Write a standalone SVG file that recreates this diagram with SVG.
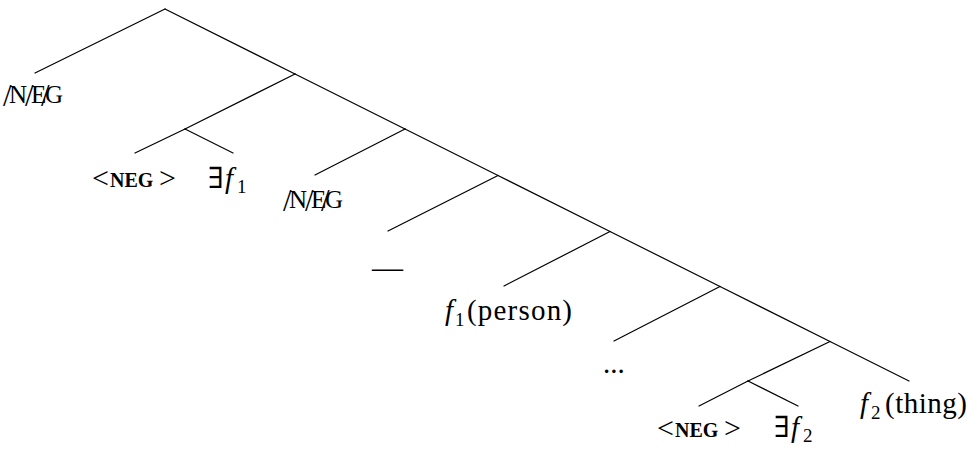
<svg xmlns="http://www.w3.org/2000/svg" width="974" height="450" viewBox="0 0 974 450">
<style>
  .edge { stroke: #000; stroke-width: 1.2; fill: none; stroke-linecap: round; }
  .t { font-family: "Liberation Serif", "DejaVu Serif", serif; fill: #000; }
  .main { font-size: 29px; }
  .it { font-style: italic; }
  .sub { font-size: 19px; }
  .ang { font-size: 30px; }
  .sc { font-size: 20px; font-weight: bold; }
  .del { font-size: 25px; }
</style>
<rect width="974" height="450" fill="#fff"/>
<g id="connectors">
  <line class="edge" x1="165" y1="9" x2="35" y2="73"/>
  <line class="edge" x1="165" y1="9" x2="295" y2="74"/>
  <line class="edge" x1="295" y1="74" x2="405" y2="129"/>
  <line class="edge" x1="405" y1="129" x2="498" y2="175.5"/>
  <line class="edge" x1="498" y1="175.5" x2="610" y2="231.5"/>
  <line class="edge" x1="610" y1="231.5" x2="720" y2="286.5"/>
  <line class="edge" x1="720" y1="286.5" x2="830" y2="341.5"/>
  <line class="edge" x1="830" y1="341.5" x2="909" y2="381"/>
  <line class="edge" x1="295" y1="74" x2="185" y2="129"/>
  <line class="edge" x1="185" y1="129" x2="135" y2="153"/>
  <line class="edge" x1="185" y1="129" x2="233" y2="153"/>
  <line class="edge" x1="405" y1="129" x2="315" y2="175"/>
  <line class="edge" x1="498" y1="175.5" x2="388" y2="231"/>
  <line class="edge" x1="610" y1="231.5" x2="504" y2="286"/>
  <line class="edge" x1="720" y1="286.5" x2="614" y2="341"/>
  <line class="edge" x1="830" y1="341.5" x2="748" y2="381"/>
  <line class="edge" x1="748" y1="381" x2="699" y2="406"/>
  <line class="edge" x1="748" y1="381" x2="798" y2="406"/>
</g>
<g id="node-neg-deleted-1">
  <text class="t del" y="103"><tspan font-size="31" x="3" y="106">/</tspan><tspan x="9" y="103">N</tspan><tspan font-size="31" x="25" y="106">/</tspan><tspan x="31" y="103">E</tspan><tspan font-size="31" x="41" y="106">/</tspan><tspan x="45" y="103">G</tspan></text>
</g>
<g id="node-neg-1">
  <text class="t ang" x="92" y="188">&lt;<tspan class="sc" x="110" y="187">NEG</tspan><tspan x="159" y="188">&gt;</tspan></text>
</g>
<g id="node-exists-f1">
  <text class="t main" x="208" y="188">∃<tspan class="it" x="225">f</tspan><tspan class="sub" x="237" y="193">1</tspan></text>
</g>
<g id="node-neg-deleted-2">
  <text class="t del" y="208"><tspan font-size="31" x="283" y="211">/</tspan><tspan x="289" y="208">N</tspan><tspan font-size="31" x="305" y="211">/</tspan><tspan x="311" y="208">E</tspan><tspan font-size="31" x="321" y="211">/</tspan><tspan x="325" y="208">G</tspan></text>
</g>
<g id="node-dash">
  <text class="t" style="font-size:31px" x="372" y="277.5">—</text>
</g>
<g id="node-f1-person">
  <text class="t main it" x="445" y="320">f</text>
  <text class="t sub" x="455" y="326">1</text>
  <text class="t main" x="467" y="320" textLength="105" lengthAdjust="spacing">(person)</text>
</g>
<g id="node-dots">
  <text class="t main" x="603" y="373">...</text>
</g>
<g id="node-neg-2">
  <text class="t ang" x="657" y="438">&lt;<tspan class="sc" x="675" y="437">NEG</tspan><tspan x="724" y="438">&gt;</tspan></text>
</g>
<g id="node-exists-f2">
  <text class="t main" x="774" y="437">∃<tspan class="it" x="791">f</tspan><tspan class="sub" x="803" y="442">2</tspan></text>
</g>
<g id="node-f2-thing">
  <text class="t main it" x="860" y="413">f</text>
  <text class="t sub" x="871" y="419">2</text>
  <text class="t main" x="885" y="413" textLength="82" lengthAdjust="spacing">(thing)</text>
</g>
</svg>
